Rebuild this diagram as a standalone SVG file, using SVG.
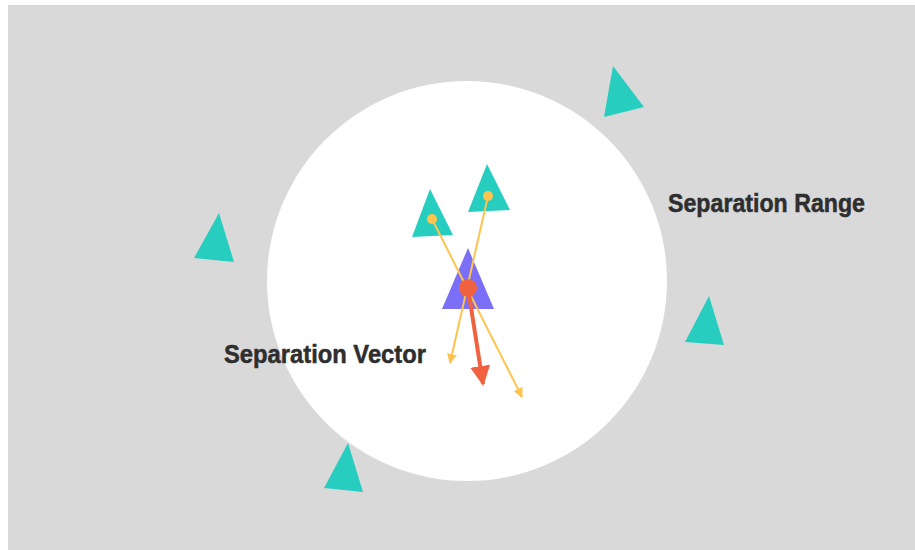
<svg xmlns="http://www.w3.org/2000/svg" width="915" height="550" viewBox="0 0 915 550">
  <defs>
    <style>
      .boid { fill: #27CEC0; }
      .self { fill: #7A6FF6; }
      .ray { stroke: #FFC44F; stroke-width: 2; fill: none; }
      .sep { stroke: #F0623F; stroke-width: 4; fill: none; }
      .label { font-family: "Liberation Sans", Arial, sans-serif; font-weight: 700; font-size: 25.5px; fill: #2E2E2E; stroke: #2E2E2E; stroke-width: 0.5px; }
    </style>
    <marker id="ray-head" viewBox="0 0 10 10" refX="9" refY="5" markerWidth="5" markerHeight="5" orient="auto" markerUnits="strokeWidth">
      <path d="M0,0 L10,5 L0,10 z" fill="#FFC44F"/>
    </marker>
    <marker id="sep-head" viewBox="0 0 10 10" refX="9" refY="5" markerWidth="5" markerHeight="5" orient="auto" markerUnits="strokeWidth">
      <path d="M0,0 L10,5 L0,10 z" fill="#F0623F"/>
    </marker>
  </defs>

  <!-- backdrop -->
  <rect x="8" y="5" width="907" height="545" fill="#D9D9D9"/>

  <!-- separation range -->
  <g id="range">
    <circle cx="467" cy="281" r="200" fill="#FFFFFF"/>
  </g>

  <!-- boids outside the range -->
  <g id="boid-top-right"><polygon class="boid" points="613,66 604,117 644,107"/></g>
  <g id="boid-left"><polygon class="boid" points="219,213 194,258 234,262"/></g>
  <g id="boid-right"><polygon class="boid" points="709,296 685,342 724,345"/></g>
  <g id="boid-bottom"><polygon class="boid" points="348,443 324,488 363,492"/></g>

  <!-- neighbours inside the range -->
  <g id="neighbour-a"><polygon class="boid" points="430,189 412,237 453,235"/></g>
  <g id="neighbour-b"><polygon class="boid" points="487,164 468,212 510,210"/></g>

  <!-- the boid being steered -->
  <g id="self"><polygon class="self" points="468,248 442,309 494,309"/></g>

  <!-- repulsion rays and resulting vector -->
  <g id="connectors">
    <line class="ray" x1="432" y1="219" x2="522" y2="397" marker-end="url(#ray-head)"/>
    <line class="ray" x1="488" y1="196" x2="450" y2="363" marker-end="url(#ray-head)"/>
    <line class="sep" x1="468" y1="288" x2="483" y2="384" marker-end="url(#sep-head)"/>
    <circle cx="432" cy="219" r="5" fill="#FFC44F"/>
    <circle cx="488" cy="196" r="5" fill="#FFC44F"/>
    <circle cx="468" cy="288" r="9" fill="#F0623F"/>
  </g>

  <g id="labels">
    <text class="label" x="668" y="212" textLength="197" lengthAdjust="spacingAndGlyphs">Separation Range</text>
    <text class="label" x="224" y="363" textLength="202" lengthAdjust="spacingAndGlyphs">Separation Vector</text>
  </g>
</svg>
